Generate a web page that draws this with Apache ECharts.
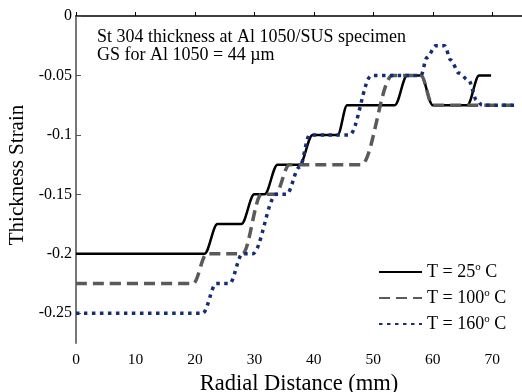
<!DOCTYPE html>
<html>
<head>
<meta charset="utf-8">
<script src="https://cdn.jsdelivr.net/npm/echarts@6/dist/echarts.min.js"></script>
<style>
  html, body { margin: 0; padding: 0; background: #fff; }
  #chart { width: 522px; height: 392px; }
</style>
</head>
<body>
<div id="chart"></div>
<script>
// radial distance (mm) and thickness strain for each temperature
const r25 = [0, 21.6, 23.8, 27.8, 30, 31.7, 33.9, 37.6, 39.8, 44, 45.6, 53.6, 55.7, 58, 60, 65.8, 67.8, 69.8]
const e25 = [-0.2, -0.2, -0.175, -0.175, -0.15, -0.15, -0.125, -0.125, -0.1, -0.1, -0.075, -0.075, -0.05, -0.05, -0.075, -0.075, -0.05, -0.05]

const r100 = [0, 19.7, 22, 28, 31.2, 33.5, 35.9, 48, 53.2, 58, 60, 74.2]
const e100 = [-0.225, -0.225, -0.2, -0.2, -0.15, -0.15, -0.125, -0.125, -0.05, -0.05, -0.075, -0.075]

const r160 = [0, 21.3, 23.6, 25.8, 28, 29.7, 33.7, 35.4, 37.6, 39.3, 46, 49.7, 58, 59, 60.5, 62, 63, 64.4, 66, 67.4, 68.3, 74]
const e160 = [-0.25, -0.25, -0.225, -0.225, -0.2, -0.2, -0.15, -0.15, -0.127, -0.1, -0.1, -0.05, -0.05, -0.035, -0.025, -0.025, -0.037, -0.048, -0.054, -0.071, -0.075, -0.075]

const xTicks = [0, 10, 20, 30, 40, 50, 60, 70]
const yTicks = [0, -0.05, -0.1, -0.15, -0.2, -0.25]

const names = ['T = 25° C', 'T = 100° C', 'T = 160° C']
const temps = ['25', '100', '160']

const zip = (xs, ys) => xs.map((x, i) => [x, ys[i]])
const serif = 'Liberation Serif'

const chart = echarts.init(document.getElementById('chart'))

const makeSeries = (name, data, color, width, dash) => {
  return {
    name: name,
    type: 'line',
    symbol: 'none',
    smooth: 0.35,
    smoothMonotone: 'x',
    data: data,
    lineStyle: { color: color, width: width, type: dash },
    itemStyle: { color: color }
  }
}

const option = {
  animation: false,
  grid: { left: 76, right: 0, top: 16, bottom: 49, outerBoundsMode: 'none', containLabel: false },
  legend: {
    orient: 'vertical',
    left: 378,
    top: 262,
    padding: 0,
    itemWidth: 43,
    itemHeight: 14,
    itemGap: 7,
    data: names,
    itemStyle: { opacity: 0 },
    formatter: name => {
      const i = names.indexOf(name)
      return '{n|T = ' + temps[i] + '}{s|o}{n| C}'
    },
    textStyle: {
      fontFamily: serif,
      color: '#000',
      rich: {
        n: { fontFamily: serif, fontSize: 18, color: '#000' },
        s: { fontFamily: serif, fontSize: 11, color: '#000', padding: [0, 0, 9, 0] }
      }
    }
  },
  graphic: [{
    type: 'text',
    left: 97,
    top: 28,
    style: {
      text: 'St 304 thickness at Al 1050/SUS specimen\nGS for Al 1050 = 44 µm',
      font: '18px "Liberation Serif"',
      lineHeight: 18,
      fill: '#000'
    }
  }],
  xAxis: {
    type: 'value',
    min: 0,
    max: 75,
    name: 'Radial Distance (mm)',
    nameLocation: 'middle',
    nameGap: 25,
    nameTextStyle: { fontFamily: serif, fontSize: 22.5, color: '#000' },
    axisLine: { lineStyle: { color: '#000', width: 1.5 } },
    axisTick: { inside: true, length: 4, customValues: xTicks, lineStyle: { color: '#000' } },
    axisLabel: { customValues: xTicks, fontFamily: serif, fontSize: 15.5, color: '#000', margin: 9 },
    splitLine: { show: false }
  },
  yAxis: {
    type: 'value',
    min: -0.275,
    max: 0,
    name: 'Thickness Strain',
    nameLocation: 'middle',
    nameGap: 47,
    nameTextStyle: { fontFamily: serif, fontSize: 21, color: '#000', padding: [0, 0, 0, 9] },
    axisLine: { show: true, lineStyle: { color: '#777', width: 2 } },
    axisTick: { show: true, inside: true, length: 5, customValues: yTicks, lineStyle: { color: '#555' } },
    axisLabel: { customValues: yTicks, fontFamily: serif, fontSize: 16, color: '#000', margin: 4, formatter: v => String(v) },
    splitLine: { show: false }
  },
  series: [
    makeSeries(names[0], zip(r25, e25), '#000000', 2.5, 'solid'),
    makeSeries(names[1], zip(r100, e100), '#5a5a5a', 3.5, [11, 6]),
    makeSeries(names[2], zip(r160, e160), '#142d73', 3.5, [3.5, 4.5])
  ]
}

chart.setOption(option)
</script>
</body>
</html>
